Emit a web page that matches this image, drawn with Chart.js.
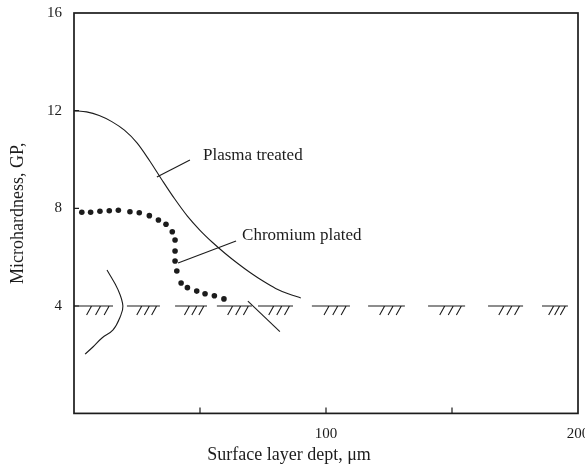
<!DOCTYPE html>
<html>
<head>
<meta charset="utf-8">
<script src="https://cdn.jsdelivr.net/npm/chart.js@4/dist/chart.umd.min.js"></script>
<style>
  html, body { margin: 0; background: #fff; }
</style>
</head>
<body>
<canvas id="chart" width="585" height="470"></canvas>
<script>
// values (depth in µm, hardness in GPa)
const plasmaDepth = [0, 5, 10, 15, 20, 25, 30, 35, 40, 45, 50, 55, 60, 65, 70, 75, 80, 85, 90];
const plasmaHardness = [12.0, 11.95, 11.8, 11.55, 11.2, 10.68, 9.95, 9.15, 8.38, 7.68, 7.1, 6.6, 6.15, 5.74, 5.36, 5.02, 4.72, 4.5, 4.33];

const chromeDepth = [3.1, 6.6, 10.3, 14.0, 17.6, 22.2, 25.9, 29.9, 33.5, 36.5, 39.0, 40.1, 40.1, 40.1, 40.8, 42.5, 45.0, 48.7, 52.0, 55.7, 59.5];
const chromeHardness = [7.84, 7.84, 7.88, 7.9, 7.92, 7.86, 7.82, 7.7, 7.52, 7.35, 7.04, 6.7, 6.25, 5.84, 5.43, 4.94, 4.75, 4.61, 4.5, 4.42, 4.29];

// the bracket-like curve at the left and the stray line under the hatching
const bulgeDepth = [13.1, 17.5, 19.4, 18.3, 15.5, 11.1, 7.5, 4.4];
const bulgeHardness = [5.47, 4.66, 4.0, 3.55, 3.02, 2.69, 2.32, 2.03];
const strayDepth = [69.0, 81.7];
const strayHardness = [4.2, 2.95];

// leader lines from the labels to the curves
const plasmaLeaderDepth = [32.9, 46.0];
const plasmaLeaderHardness = [9.28, 9.98];
const chromeLeaderDepth = [41.3, 64.3];
const chromeLeaderHardness = [5.76, 6.66];

// substrate level drawn as hatched dashes
const hatchLevel = 4;
const hatchSegments = [[0, 15.5], [21, 34.1], [40.1, 52.8], [56.7, 70.6], [73, 86.9],
  [94.4, 109.5], [116.7, 131.3], [140.5, 155.2], [164.3, 178.2], [185.7, 196]];

const labelText = ['Plasma treated', 'Chromium plated'];
const labelDepth = [51.2, 66.7];
const labelHardness = [10.18, 6.87];

const xLabelTicks = [100, 200];
const xTickMarks = [50, 100, 150];
const yLabelTicks = [4, 8, 12, 16];
const yTickMarks = [4, 8, 12];

const ink = '#1c1c1c';
const serif = "'Liberation Serif', 'DejaVu Serif', serif";

function pts(xs, ys) {
  return xs.map((v, i) => ({ x: v, y: ys[i] }));
}

function lineSet(xs, ys, width, tension) {
  return {
    data: pts(xs, ys),
    showLine: true,
    borderColor: ink,
    borderWidth: width,
    pointRadius: 0,
    tension: tension,
    fill: false
  };
}

const decor = {
  id: 'decor',
  afterDatasetsDraw(chart) {
    const { ctx, chartArea: a, scales: { x, y } } = chart;
    ctx.save();
    ctx.strokeStyle = ink;
    ctx.lineWidth = 1.7;
    ctx.strokeRect(a.left, a.top, a.right - a.left, a.bottom - a.top);

    ctx.lineWidth = 1.2;
    ctx.beginPath();
    xTickMarks.forEach(v => {
      const px = x.getPixelForValue(v);
      ctx.moveTo(px, a.bottom);
      ctx.lineTo(px, a.bottom - 6);
    });
    yTickMarks.forEach(v => {
      const py = y.getPixelForValue(v);
      ctx.moveTo(a.left, py);
      ctx.lineTo(a.left + 5, py);
    });
    ctx.stroke();

    // hatched substrate line
    const yb = y.getPixelForValue(hatchLevel);
    ctx.lineWidth = 1.1;
    ctx.beginPath();
    hatchSegments.forEach(([s, e]) => {
      const x0 = x.getPixelForValue(s), x1 = x.getPixelForValue(e);
      ctx.moveTo(x0, yb);
      ctx.lineTo(x1, yb);
      [0.45, 0.68, 0.9].forEach(f => {
        const px = x0 + (x1 - x0) * f;
        ctx.moveTo(px, yb);
        ctx.lineTo(px - 5, yb + 9);
      });
    });
    ctx.stroke();

    ctx.fillStyle = ink;
    ctx.font = '17px ' + serif;
    ctx.textBaseline = 'middle';
    ctx.textAlign = 'left';
    labelText.forEach((t, i) => {
      ctx.fillText(t, x.getPixelForValue(labelDepth[i]), y.getPixelForValue(labelHardness[i]));
    });
    ctx.restore();
  }
};

const plasmaSet = lineSet(plasmaDepth, plasmaHardness, 1.1, 0.4);
plasmaSet.cubicInterpolationMode = 'monotone';

new Chart(document.getElementById('chart'), {
  type: 'scatter',
  data: {
    datasets: [
      plasmaSet,
      {
        data: pts(chromeDepth, chromeHardness),
        showLine: false,
        pointRadius: 2.8,
        pointBackgroundColor: ink,
        pointBorderWidth: 0
      },
      lineSet(bulgeDepth, bulgeHardness, 1.1, 0.4),
      lineSet(strayDepth, strayHardness, 1.1, 0),
      lineSet(plasmaLeaderDepth, plasmaLeaderHardness, 1.1, 0),
      lineSet(chromeLeaderDepth, chromeLeaderHardness, 1.1, 0)
    ]
  },
  options: {
    responsive: false,
    animation: false,
    layout: { padding: { top: 13, right: 7, left: 0, bottom: 0 } },
    plugins: {
      legend: { display: false },
      tooltip: { enabled: false },
      title: {
        display: true,
        position: 'bottom',
        text: 'Surface layer dept, μm',
        color: ink,
        font: { family: serif, size: 18, weight: 'normal' },
        padding: { top: 0, bottom: 4 }
      }
    },
    scales: {
      x: {
        type: 'linear',
        min: 0,
        max: 200,
        afterBuildTicks: s => { s.ticks = xLabelTicks.map(v => ({ value: v })); },
        afterFit: s => { s.height = 31; s.paddingLeft = 0; s.paddingRight = 0; },
        grid: { display: false, drawTicks: false },
        border: { display: false },
        ticks: { color: ink, padding: 12, font: { family: serif, size: 15 }, maxRotation: 0 }
      },
      y: {
        min: -0.4,
        max: 16,
        afterBuildTicks: s => { s.ticks = yLabelTicks.map(v => ({ value: v })); },
        afterFit: s => { s.width = 74; s.paddingTop = 0; s.paddingBottom = 0; },
        grid: { display: false, drawTicks: false },
        border: { display: false },
        ticks: { color: ink, padding: 12, font: { family: serif, size: 15 } },
        title: {
          display: true,
          text: 'Microhardness, GP,',
          color: ink,
          font: { family: serif, size: 18, weight: 'normal' },
          padding: { top: 7, bottom: 0 }
        }
      }
    }
  },
  plugins: [decor]
});
</script>
</body>
</html>
